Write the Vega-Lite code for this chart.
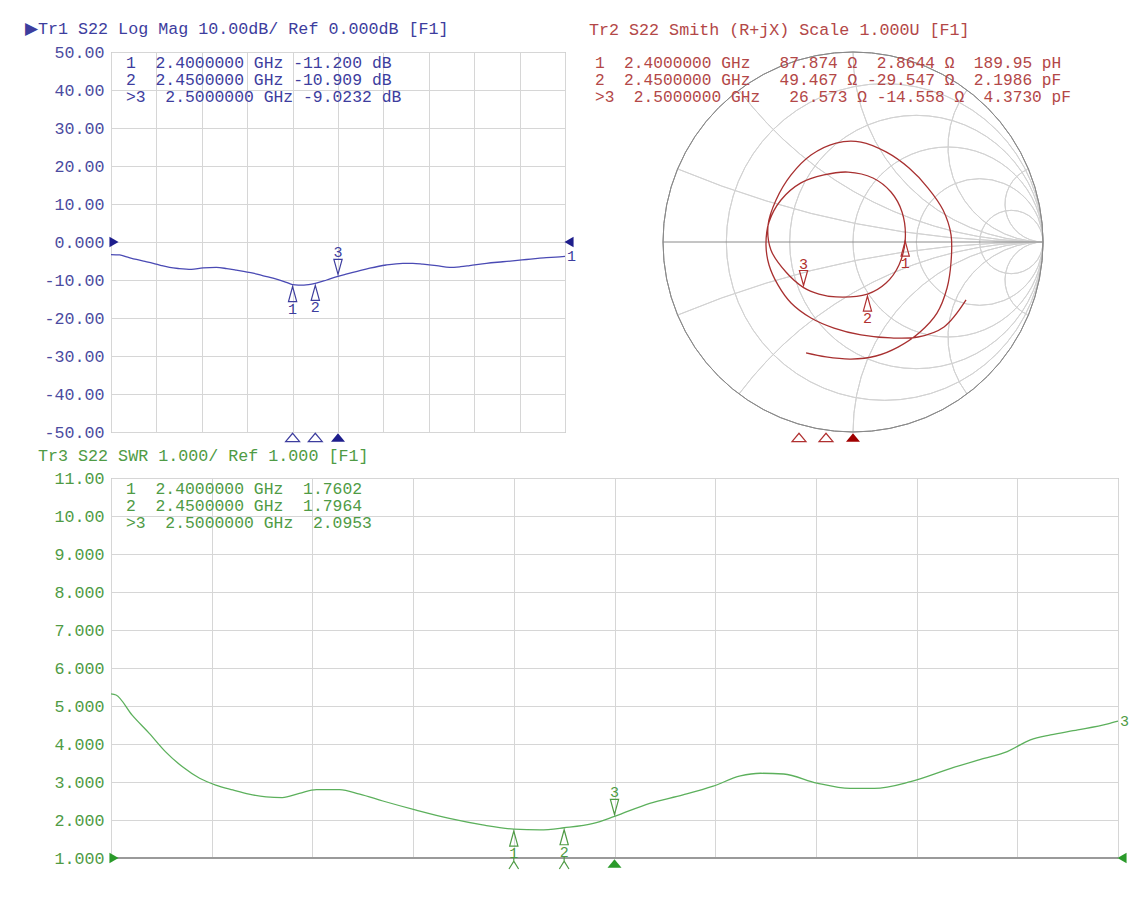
{
  "$schema": "https://vega.github.io/schema/vega-lite/v6.json",
  "background": "white",
  "padding": {"left": 24, "top": 20, "right": 0, "bottom": 0},
  "spacing": 2,
  "datasets": {
    "db": [
      {"f": 2.000, "db": -3.3}, {"f": 2.019, "db": -3.4}, {"f": 2.037, "db": -4.0}, {"f": 2.056, "db": -4.6},
      {"f": 2.075, "db": -5.1}, {"f": 2.093, "db": -5.6}, {"f": 2.111, "db": -6.2}, {"f": 2.129, "db": -6.7},
      {"f": 2.150, "db": -7.0}, {"f": 2.177, "db": -7.2}, {"f": 2.203, "db": -6.8}, {"f": 2.232, "db": -6.7},
      {"f": 2.255, "db": -7.0}, {"f": 2.276, "db": -7.4}, {"f": 2.295, "db": -7.8}, {"f": 2.313, "db": -8.2},
      {"f": 2.332, "db": -8.8}, {"f": 2.350, "db": -9.3}, {"f": 2.368, "db": -9.9}, {"f": 2.386, "db": -10.6},
      {"f": 2.400, "db": -11.2}, {"f": 2.425, "db": -11.35}, {"f": 2.450, "db": -10.9}, {"f": 2.475, "db": -10.0},
      {"f": 2.500, "db": -9.02}, {"f": 2.520, "db": -8.4}, {"f": 2.540, "db": -7.8}, {"f": 2.570, "db": -6.9},
      {"f": 2.606, "db": -6.05}, {"f": 2.643, "db": -5.6}, {"f": 2.665, "db": -5.6}, {"f": 2.687, "db": -5.8},
      {"f": 2.717, "db": -6.2}, {"f": 2.746, "db": -6.7}, {"f": 2.770, "db": -6.5}, {"f": 2.790, "db": -6.2},
      {"f": 2.827, "db": -5.6}, {"f": 2.863, "db": -5.2}, {"f": 2.890, "db": -4.9}, {"f": 2.915, "db": -4.6},
      {"f": 2.940, "db": -4.3}, {"f": 2.959, "db": -4.1}, {"f": 2.980, "db": -4.0}, {"f": 3.000, "db": -3.8}
    ],
    "swr": [
      {"f": 2.000, "swr": 5.32}, {"f": 2.005, "swr": 5.29}, {"f": 2.021, "swr": 4.76}, {"f": 2.038, "swr": 4.28},
      {"f": 2.054, "swr": 3.80}, {"f": 2.071, "swr": 3.40}, {"f": 2.088, "swr": 3.10}, {"f": 2.104, "swr": 2.92},
      {"f": 2.121, "swr": 2.79}, {"f": 2.137, "swr": 2.68}, {"f": 2.154, "swr": 2.61}, {"f": 2.170, "swr": 2.59},
      {"f": 2.187, "swr": 2.70}, {"f": 2.204, "swr": 2.80}, {"f": 2.227, "swr": 2.80}, {"f": 2.247, "swr": 2.68},
      {"f": 2.270, "swr": 2.50}, {"f": 2.303, "swr": 2.26}, {"f": 2.336, "swr": 2.04}, {"f": 2.369, "swr": 1.87},
      {"f": 2.400, "swr": 1.76}, {"f": 2.426, "swr": 1.74}, {"f": 2.450, "swr": 1.796}, {"f": 2.479, "swr": 1.91},
      {"f": 2.500, "swr": 2.095}, {"f": 2.535, "swr": 2.44}, {"f": 2.568, "swr": 2.66}, {"f": 2.598, "swr": 2.89},
      {"f": 2.625, "swr": 3.16}, {"f": 2.645, "swr": 3.23}, {"f": 2.668, "swr": 3.21}, {"f": 2.701, "swr": 2.97},
      {"f": 2.734, "swr": 2.83}, {"f": 2.758, "swr": 2.83}, {"f": 2.794, "swr": 3.01}, {"f": 2.834, "swr": 3.36},
      {"f": 2.867, "swr": 3.62}, {"f": 2.890, "swr": 3.80}, {"f": 2.913, "swr": 4.11}, {"f": 2.933, "swr": 4.24},
      {"f": 2.960, "swr": 4.37}, {"f": 2.990, "swr": 4.53}, {"f": 3.000, "swr": 4.60}
    ],
    "smith": [
      {"f": 2.00, "gx": 0.595, "gy": -0.305}, {"f": 2.03, "gx": 0.479, "gy": -0.447}, {"f": 2.06, "gx": 0.342, "gy": -0.5},
      {"f": 2.09, "gx": 0.2, "gy": -0.505}, {"f": 2.12, "gx": 0.042, "gy": -0.489}, {"f": 2.15, "gx": -0.1, "gy": -0.453},
      {"f": 2.17, "gx": -0.221, "gy": -0.4}, {"f": 2.19, "gx": -0.326, "gy": -0.321}, {"f": 2.21, "gx": -0.395, "gy": -0.226},
      {"f": 2.23, "gx": -0.442, "gy": -0.121}, {"f": 2.25, "gx": -0.458, "gy": -0.016}, {"f": 2.27, "gx": -0.442, "gy": 0.105},
      {"f": 2.29, "gx": -0.379, "gy": 0.221}, {"f": 2.31, "gx": -0.274, "gy": 0.311}, {"f": 2.33, "gx": -0.153, "gy": 0.353},
      {"f": 2.35, "gx": -0.026, "gy": 0.368}, {"f": 2.37, "gx": 0.105, "gy": 0.337}, {"f": 2.38, "gx": 0.2, "gy": 0.263},
      {"f": 2.39, "gx": 0.258, "gy": 0.158}, {"f": 2.40, "gx": 0.275, "gy": 0.015}, {"f": 2.42, "gx": 0.242, "gy": -0.121},
      {"f": 2.435, "gx": 0.174, "gy": -0.216}, {"f": 2.45, "gx": 0.076, "gy": -0.274}, {"f": 2.47, "gx": -0.089, "gy": -0.289},
      {"f": 2.48, "gx": -0.179, "gy": -0.274}, {"f": 2.50, "gx": -0.26, "gy": -0.24}, {"f": 2.52, "gx": -0.353, "gy": -0.158},
      {"f": 2.54, "gx": -0.432, "gy": -0.042}, {"f": 2.56, "gx": -0.447, "gy": 0.089}, {"f": 2.58, "gx": -0.405, "gy": 0.221},
      {"f": 2.60, "gx": -0.326, "gy": 0.353}, {"f": 2.62, "gx": -0.221, "gy": 0.458}, {"f": 2.64, "gx": -0.089, "gy": 0.521},
      {"f": 2.66, "gx": 0.042, "gy": 0.526}, {"f": 2.68, "gx": 0.174, "gy": 0.474}, {"f": 2.70, "gx": 0.295, "gy": 0.389},
      {"f": 2.72, "gx": 0.395, "gy": 0.284}, {"f": 2.74, "gx": 0.474, "gy": 0.168}, {"f": 2.76, "gx": 0.516, "gy": 0.037},
      {"f": 2.78, "gx": 0.516, "gy": -0.105}, {"f": 2.80, "gx": 0.495, "gy": -0.242}, {"f": 2.83, "gx": 0.442, "gy": -0.374},
      {"f": 2.86, "gx": 0.347, "gy": -0.479}, {"f": 2.89, "gx": 0.237, "gy": -0.553}, {"f": 2.92, "gx": 0.121, "gy": -0.6},
      {"f": 2.95, "gx": -0.011, "gy": -0.616}, {"f": 2.98, "gx": -0.142, "gy": -0.605}, {"f": 3.00, "gx": -0.247, "gy": -0.584}
    ],
    "smithGrid": [
      {"kind": "grid", "cx": 0.16667, "cy": 0, "rad": 0.83333, "t1": 0, "t2": 360},
      {"kind": "grid", "cx": 0.33333, "cy": 0, "rad": 0.66667, "t1": 0, "t2": 360},
      {"kind": "grid", "cx": 0.5, "cy": 0, "rad": 0.5, "t1": 0, "t2": 360},
      {"kind": "grid", "cx": 0.66667, "cy": 0, "rad": 0.33333, "t1": 0, "t2": 360},
      {"kind": "grid", "cx": 0.83333, "cy": 0, "rad": 0.16667, "t1": 0, "t2": 360},
      {"kind": "grid", "cx": 1, "cy": 5, "rad": 5, "t1": 180, "t2": 202.62},
      {"kind": "grid", "cx": 1, "cy": 2, "rad": 2, "t1": 180, "t2": 233.13},
      {"kind": "grid", "cx": 1, "cy": 1, "rad": 1, "t1": 180, "t2": 270},
      {"kind": "grid", "cx": 1, "cy": 0.5, "rad": 0.5, "t1": 180, "t2": 306.87},
      {"kind": "grid", "cx": 1, "cy": 0.2, "rad": 0.2, "t1": 180, "t2": 337.38},
      {"kind": "grid", "cx": 1, "cy": -5, "rad": 5, "t1": 337.38, "t2": 360},
      {"kind": "grid", "cx": 1, "cy": -2, "rad": 2, "t1": 306.87, "t2": 360},
      {"kind": "grid", "cx": 1, "cy": -1, "rad": 1, "t1": 270, "t2": 360},
      {"kind": "grid", "cx": 1, "cy": -0.5, "rad": 0.5, "t1": 233.13, "t2": 360},
      {"kind": "grid", "cx": 1, "cy": -0.2, "rad": 0.2, "t1": 202.62, "t2": 360},
      {"kind": "outer", "cx": 0, "cy": 0, "rad": 1, "t1": 0, "t2": 360}
    ],
    "markers": [
      {"m": 1, "f": 2.40, "db": -11.2, "swr": 1.7602, "gx": 0.2747, "gy": 0.0151,
       "dbline": "\u00a01\u00a0\u00a02.4000000\u00a0GHz\u00a0-11.200\u00a0dB",
       "smline": "\u00a01\u00a0\u00a02.4000000\u00a0GHz\u00a0\u00a0\u00a087.874\u00a0Ω\u00a0\u00a02.8644\u00a0Ω\u00a0\u00a0189.95\u00a0pH",
       "swrline": "\u00a01\u00a0\u00a02.4000000\u00a0GHz\u00a0\u00a01.7602"},
      {"m": 2, "f": 2.45, "db": -10.909, "swr": 1.7964, "gx": 0.0761, "gy": -0.2744,
       "dbline": "\u00a02\u00a0\u00a02.4500000\u00a0GHz\u00a0-10.909\u00a0dB",
       "smline": "\u00a02\u00a0\u00a02.4500000\u00a0GHz\u00a0\u00a0\u00a049.467\u00a0Ω\u00a0-29.547\u00a0Ω\u00a0\u00a02.1986\u00a0pF",
       "swrline": "\u00a02\u00a0\u00a02.4500000\u00a0GHz\u00a0\u00a01.7964"},
      {"m": 3, "f": 2.50, "db": -9.0232, "swr": 2.0953, "gx": -0.2604, "gy": -0.2396,
       "dbline": ">3\u00a0\u00a02.5000000\u00a0GHz\u00a0-9.0232\u00a0dB",
       "smline": ">3\u00a0\u00a02.5000000\u00a0GHz\u00a0\u00a0\u00a026.573\u00a0Ω\u00a0-14.558\u00a0Ω\u00a0\u00a04.3730\u00a0pF",
       "swrline": ">3\u00a0\u00a02.5000000\u00a0GHz\u00a0\u00a02.0953"}
    ],
    "refDb": [{"lo": 2, "hi": 3, "ref": 0}],
    "refSwr": [{"lo": 2, "hi": 3, "ref": 1}],
    "refSm": [{"lo": -1, "hi": 1, "z": 0}]
  },
  "vconcat": [
    {
      "bounds": "flush",
      "spacing": 98,
      "hconcat": [
        {
          "width": 454,
          "height": 380,
          "title": {"text": "▶Tr1 S22 Log Mag 10.00dB/ Ref 0.000dB [F1]", "color": "#3d3d9e", "dx": -86, "offset": 0, "dy": 6.9, "baseline": "alphabetic"},
          "layer": [
            {
              "data": {"name": "db"},
              "mark": {"type": "line", "color": "#4a4ab4", "strokeWidth": 1.3, "interpolate": "monotone"},
              "encoding": {
                "x": {"field": "f", "type": "quantitative", "scale": {"domain": [2, 3], "nice": false, "zero": false},
                      "axis": {"values": [2, 2.1, 2.2, 2.3, 2.4, 2.5, 2.6, 2.7, 2.8, 2.9, 3], "tickCount": 12, "labels": false, "title": null, "grid": true}},
                "y": {"field": "db", "type": "quantitative", "scale": {"domain": [-50, 50], "nice": false, "zero": false},
                      "axis": {"values": [-50, -40, -30, -20, -10, 0, 10, 20, 30, 40, 50], "tickCount": 12, "title": null, "grid": true, "labelColor": "#4b4ba0",
                               "labelOverlap": false, "labelBound": false, "labelFlush": false,
                               "labelExpr": "datum.value == 0 ? '0.000' : (datum.value < 0 ? '-' + format(-datum.value, '.2f') : format(datum.value, '.2f'))"}}
              }
            },
            {
              "data": {"name": "refDb"},
              "mark": {"type": "point", "shape": "triangle-right", "filled": true, "opacity": 1, "size": 110, "color": "#1e1e8c", "xOffset": 3},
              "encoding": {"x": {"field": "lo", "type": "quantitative"}, "y": {"field": "ref", "type": "quantitative"}}
            },
            {
              "data": {"name": "refDb"},
              "mark": {"type": "point", "shape": "triangle-left", "filled": true, "opacity": 1, "size": 110, "color": "#1e1e8c", "xOffset": 4},
              "encoding": {"x": {"field": "hi", "type": "quantitative"}, "y": {"field": "ref", "type": "quantitative"}}
            },
            {
              "data": {"name": "markers"},
              "transform": [{"filter": "datum.m < 3"}],
              "mark": {"type": "point", "shape": "M0,-1L0.55,1L-0.55,1Z", "size": 225, "filled": false, "opacity": 1, "stroke": "#3d3d9e", "strokeWidth": 1.2, "yOffset": 9.5},
              "encoding": {"x": {"field": "f", "type": "quantitative"}, "y": {"field": "db", "type": "quantitative"}}
            },
            {
              "data": {"name": "markers"},
              "transform": [{"filter": "datum.m < 3"}],
              "mark": {"type": "text", "dy": 24, "fontSize": 15, "color": "#3d3d9e"},
              "encoding": {"x": {"field": "f", "type": "quantitative"}, "y": {"field": "db", "type": "quantitative"}, "text": {"field": "m", "type": "nominal"}}
            },
            {
              "data": {"name": "markers"},
              "transform": [{"filter": "datum.m == 3"}],
              "mark": {"type": "point", "shape": "M0,1L0.55,-1L-0.55,-1Z", "size": 225, "filled": false, "opacity": 1, "stroke": "#3d3d9e", "strokeWidth": 1.2, "yOffset": -9.5},
              "encoding": {"x": {"field": "f", "type": "quantitative"}, "y": {"field": "db", "type": "quantitative"}}
            },
            {
              "data": {"name": "markers"},
              "transform": [{"filter": "datum.m == 3"}],
              "mark": {"type": "text", "dy": -24, "fontSize": 15, "color": "#3d3d9e"},
              "encoding": {"x": {"field": "f", "type": "quantitative"}, "y": {"field": "db", "type": "quantitative"}, "text": {"field": "m", "type": "nominal"}}
            },
            {
              "data": {"name": "markers"},
              "transform": [{"filter": "datum.m < 3"}],
              "mark": {"type": "point", "shape": "M-1,0.6L0,-0.6L1,0.6Z", "size": 196, "filled": false, "opacity": 1, "stroke": "#3d3d9e", "strokeWidth": 1.2, "yOffset": 5.5},
              "encoding": {"x": {"field": "f", "type": "quantitative"}, "y": {"datum": -50}}
            },
            {
              "data": {"name": "markers"},
              "transform": [{"filter": "datum.m == 3"}],
              "mark": {"type": "point", "shape": "M-1,0.6L0,-0.6L1,0.6Z", "size": 196, "filled": true, "opacity": 1, "color": "#1e1e8c", "yOffset": 5.5},
              "encoding": {"x": {"field": "f", "type": "quantitative"}, "y": {"datum": -50}}
            },
            {
              "data": {"name": "markers"},
              "mark": {"type": "text", "align": "left", "baseline": "middle", "fontSize": 16.4, "color": "#3d3d9e"},
              "encoding": {
                "x": {"datum": 2.033},
                "y": {"datum": 50},
                "yOffset": {"field": "m", "type": "quantitative", "scale": {"domain": [1, 3], "range": [10.5, 44.5]}},
                "text": {"field": "dbline", "type": "nominal"}
              }
            },
            {
              "data": {"name": "db"},
              "transform": [{"filter": "datum.f == 3"}],
              "mark": {"type": "text", "align": "left", "baseline": "middle", "dx": 2, "fontSize": 15, "color": "#3d3d9e"},
              "encoding": {"x": {"field": "f", "type": "quantitative"}, "y": {"field": "db", "type": "quantitative"}, "text": {"value": "1"}}
            }
          ]
        },
        {
          "width": 380,
          "height": 380,
          "view": {"stroke": null},
          "title": {"text": "Tr2 S22 Smith (R+jX) Scale 1.000U [F1]", "color": "#b34747", "dx": -74, "offset": 0, "dy": 2, "baseline": "alphabetic"},
          "layer": [
            {
              "data": {"name": "smithGrid"},
              "mark": {"type": "arc", "filled": false, "strokeWidth": 1},
              "encoding": {
                "x": {"field": "cx", "type": "quantitative", "scale": {"domain": [-1, 1], "nice": false, "zero": false}, "axis": null},
                "y": {"field": "cy", "type": "quantitative", "scale": {"domain": [-1, 1], "nice": false, "zero": false}, "axis": null},
                "theta": {"field": "t1", "type": "quantitative", "stack": null, "scale": {"type": "linear", "domain": [0, 360], "range": [0, 6.283185307179586], "zero": false}},
                "theta2": {"field": "t2"},
                "radius": {"field": "rad", "type": "quantitative", "scale": {"type": "linear", "domain": [0, 1], "range": [0, 190], "zero": true}},
                "radius2": {"field": "rad"},
                "stroke": {"field": "kind", "type": "nominal", "scale": {"domain": ["outer", "grid"], "range": ["#8a8a8a", "#d2d2d2"]}, "legend": null}
              }
            },
            {
              "data": {"name": "refSm"},
              "mark": {"type": "rule", "color": "#8a8a8a", "strokeWidth": 1},
              "encoding": {"x": {"field": "lo", "type": "quantitative"}, "x2": {"field": "hi"}, "y": {"field": "z", "type": "quantitative"}}
            },
            {
              "data": {"name": "smith"},
              "mark": {"type": "line", "color": "#a83030", "strokeWidth": 1.3, "interpolate": "catmull-rom"},
              "encoding": {"x": {"field": "gx", "type": "quantitative"}, "y": {"field": "gy", "type": "quantitative"}, "order": {"field": "f", "type": "quantitative"}}
            },
            {
              "data": {"name": "markers"},
              "transform": [{"filter": "datum.m < 3"}],
              "mark": {"type": "point", "shape": "M0,-1L0.55,1L-0.55,1Z", "size": 225, "filled": false, "opacity": 1, "stroke": "#b03030", "strokeWidth": 1.2, "yOffset": 9.5},
              "encoding": {"x": {"field": "gx", "type": "quantitative"}, "y": {"field": "gy", "type": "quantitative"}}
            },
            {
              "data": {"name": "markers"},
              "transform": [{"filter": "datum.m < 3"}],
              "mark": {"type": "text", "dy": 24, "fontSize": 15, "color": "#b03030"},
              "encoding": {"x": {"field": "gx", "type": "quantitative"}, "y": {"field": "gy", "type": "quantitative"}, "text": {"field": "m", "type": "nominal"}}
            },
            {
              "data": {"name": "markers"},
              "transform": [{"filter": "datum.m == 3"}],
              "mark": {"type": "point", "shape": "M0,1L0.55,-1L-0.55,-1Z", "size": 225, "filled": false, "opacity": 1, "stroke": "#b03030", "strokeWidth": 1.2, "yOffset": -9.5},
              "encoding": {"x": {"field": "gx", "type": "quantitative"}, "y": {"field": "gy", "type": "quantitative"}}
            },
            {
              "data": {"name": "markers"},
              "transform": [{"filter": "datum.m == 3"}],
              "mark": {"type": "text", "dy": -24, "fontSize": 15, "color": "#b03030"},
              "encoding": {"x": {"field": "gx", "type": "quantitative"}, "y": {"field": "gy", "type": "quantitative"}, "text": {"field": "m", "type": "nominal"}}
            },
            {
              "data": {"name": "markers"},
              "transform": [{"filter": "datum.m < 3"}],
              "mark": {"type": "point", "shape": "M-1,0.6L0,-0.6L1,0.6Z", "size": 196, "filled": false, "opacity": 1, "stroke": "#b03030", "strokeWidth": 1.2, "yOffset": 5.5},
              "encoding": {"x": {"datum": 0}, "y": {"datum": -1},
                           "xOffset": {"field": "m", "type": "quantitative", "scale": {"domain": [1, 3], "range": [-54, 0]}}}
            },
            {
              "data": {"name": "markers"},
              "transform": [{"filter": "datum.m == 3"}],
              "mark": {"type": "point", "shape": "M-1,0.6L0,-0.6L1,0.6Z", "size": 196, "filled": true, "opacity": 1, "color": "#a00000", "yOffset": 5.5},
              "encoding": {"x": {"datum": 0}, "y": {"datum": -1}}
            },
            {
              "data": {"name": "markers"},
              "mark": {"type": "text", "align": "left", "baseline": "middle", "fontSize": 16.2, "color": "#b34747"},
              "encoding": {
                "x": {"datum": -1.358},
                "y": {"datum": 1},
                "yOffset": {"field": "m", "type": "quantitative", "scale": {"domain": [1, 3], "range": [10, 45]}},
                "text": {"field": "smline", "type": "nominal"}
              }
            }
          ]
        }
      ]
    },
    {
      "width": 1007,
      "height": 380,
      "title": {"text": "Tr3 S22 SWR 1.000/ Ref 1.000 [F1]", "color": "#4f9b45", "dx": -73, "offset": 0, "dy": 8, "baseline": "alphabetic"},
      "layer": [
        {
          "data": {"name": "swr"},
          "mark": {"type": "line", "color": "#5cb05c", "strokeWidth": 1.3, "interpolate": "monotone"},
          "encoding": {
            "x": {"field": "f", "type": "quantitative", "scale": {"domain": [2, 3], "nice": false, "zero": false},
                  "axis": {"values": [2, 2.1, 2.2, 2.3, 2.4, 2.5, 2.6, 2.7, 2.8, 2.9, 3], "tickCount": 12, "labels": false, "title": null, "grid": true}},
            "y": {"field": "swr", "type": "quantitative", "scale": {"domain": [1, 11], "nice": false, "zero": false},
                  "axis": {"values": [1, 2, 3, 4, 5, 6, 7, 8, 9, 10, 11], "tickCount": 12, "title": null, "grid": true, "labelColor": "#4f9b45",
                           "labelOverlap": false, "labelBound": false, "labelFlush": false,
                           "labelExpr": "datum.value >= 10 ? format(datum.value, '.2f') : format(datum.value, '.3f')"}}
          }
        },
        {
          "data": {"name": "refSwr"},
          "mark": {"type": "rule", "color": "#9a9a9a", "strokeWidth": 2},
          "encoding": {"x": {"field": "lo", "type": "quantitative"}, "x2": {"field": "hi"}, "y": {"field": "ref", "type": "quantitative"}}
        },
        {
          "data": {"name": "refSwr"},
          "mark": {"type": "point", "shape": "triangle-right", "filled": true, "opacity": 1, "size": 110, "color": "#2a9a2a", "xOffset": 3},
          "encoding": {"x": {"field": "lo", "type": "quantitative"}, "y": {"field": "ref", "type": "quantitative"}}
        },
        {
          "data": {"name": "refSwr"},
          "mark": {"type": "point", "shape": "triangle-left", "filled": true, "opacity": 1, "size": 110, "color": "#2a9a2a", "xOffset": 4},
          "encoding": {"x": {"field": "hi", "type": "quantitative"}, "y": {"field": "ref", "type": "quantitative"}}
        },
        {
          "data": {"name": "markers"},
          "transform": [{"filter": "datum.m < 3"}],
          "mark": {"type": "point", "shape": "M0,-1L0.55,1L-0.55,1Z", "size": 225, "filled": false, "opacity": 1, "stroke": "#4f9b45", "strokeWidth": 1.2, "yOffset": 9.5},
          "encoding": {"x": {"field": "f", "type": "quantitative"}, "y": {"field": "swr", "type": "quantitative"}}
        },
        {
          "data": {"name": "markers"},
          "transform": [{"filter": "datum.m < 3"}],
          "mark": {"type": "text", "dy": 24, "fontSize": 15, "color": "#4f9b45"},
          "encoding": {"x": {"field": "f", "type": "quantitative"}, "y": {"field": "swr", "type": "quantitative"}, "text": {"field": "m", "type": "nominal"}}
        },
        {
          "data": {"name": "markers"},
          "transform": [{"filter": "datum.m == 3"}],
          "mark": {"type": "point", "shape": "M0,1L0.55,-1L-0.55,-1Z", "size": 225, "filled": false, "opacity": 1, "stroke": "#4f9b45", "strokeWidth": 1.2, "yOffset": -9.5},
          "encoding": {"x": {"field": "f", "type": "quantitative"}, "y": {"field": "swr", "type": "quantitative"}}
        },
        {
          "data": {"name": "markers"},
          "transform": [{"filter": "datum.m == 3"}],
          "mark": {"type": "text", "dy": -24, "fontSize": 15, "color": "#4f9b45"},
          "encoding": {"x": {"field": "f", "type": "quantitative"}, "y": {"field": "swr", "type": "quantitative"}, "text": {"field": "m", "type": "nominal"}}
        },
        {
          "data": {"name": "markers"},
          "transform": [{"filter": "datum.m < 3"}],
          "mark": {"type": "point", "shape": "M-0.8,1L0,-0.3L0.8,1M0,-0.3L0,-1", "size": 144, "filled": false, "opacity": 1, "stroke": "#4f9b45", "strokeWidth": 1.2, "yOffset": 5},
          "encoding": {"x": {"field": "f", "type": "quantitative"}, "y": {"datum": 1}}
        },
        {
          "data": {"name": "markers"},
          "transform": [{"filter": "datum.m == 3"}],
          "mark": {"type": "point", "shape": "M-1,0.6L0,-0.6L1,0.6Z", "size": 196, "filled": true, "opacity": 1, "color": "#2a9a2a", "yOffset": 5.5},
          "encoding": {"x": {"field": "f", "type": "quantitative"}, "y": {"datum": 1}}
        },
        {
          "data": {"name": "markers"},
          "mark": {"type": "text", "align": "left", "baseline": "middle", "fontSize": 16.4, "color": "#4f9b45"},
          "encoding": {
            "x": {"datum": 2.0149},
            "y": {"datum": 11},
            "yOffset": {"field": "m", "type": "quantitative", "scale": {"domain": [1, 3], "range": [11, 45]}},
            "text": {"field": "swrline", "type": "nominal"}
          }
        },
        {
          "data": {"name": "swr"},
          "transform": [{"filter": "datum.f == 3"}],
          "mark": {"type": "text", "align": "left", "baseline": "middle", "dx": 2, "fontSize": 15, "color": "#4f9b45"},
          "encoding": {"x": {"field": "f", "type": "quantitative"}, "y": {"field": "swr", "type": "quantitative"}, "text": {"value": "3"}}
        }
      ]
    }
  ],
  "config": {
    "view": {"stroke": "#a0a0a0", "strokeWidth": 1},
    "font": "Liberation Mono",
    "axis": {"labelFont": "Liberation Mono", "labelFontSize": 16.7, "labelOverlap": false, "gridColor": "#d6d6d6", "gridWidth": 1, "ticks": false, "domain": false, "labelPadding": 7},
    "title": {"font": "Liberation Mono", "fontSize": 16.7, "fontWeight": "normal", "anchor": "start", "frame": "group"},
    "text": {"font": "Liberation Mono"}
  }
}
